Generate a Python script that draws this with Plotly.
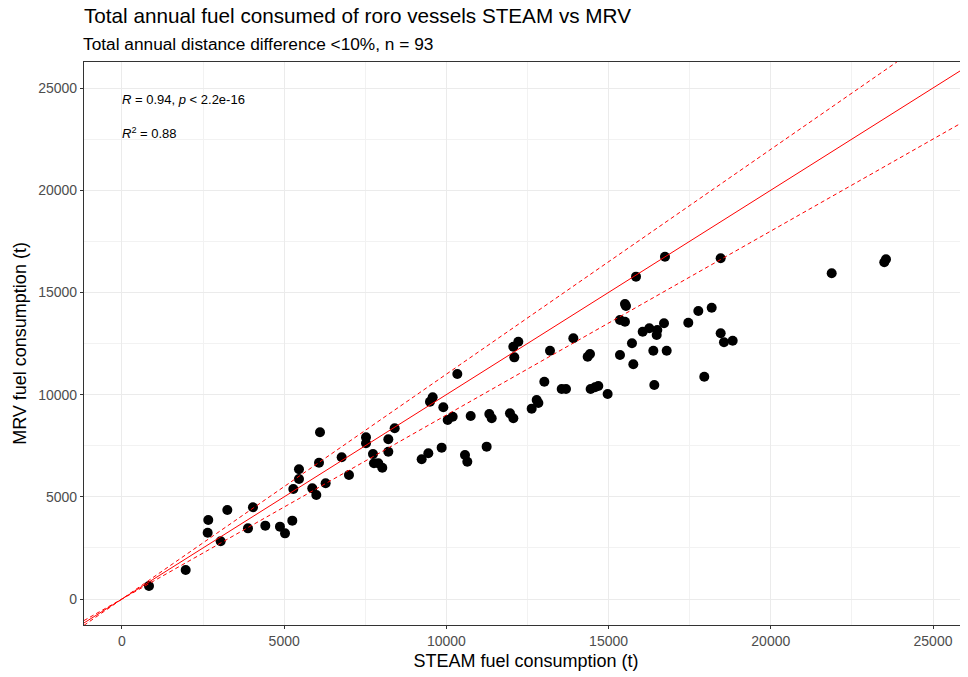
import plotly.graph_objects as go

# STEAM vs MRV annual fuel consumption (t)
steam = [832, 1963, 2660, 2641, 3247, 3042, 4038, 3884, 4418, 4870,
         5025, 5250, 5456, 5456, 5281, 6073, 5866, 5990, 6278, 6997,
         7768, 7901, 8024, 6104, 6772, 7522, 7522, 7737, 8210, 8210,
         8406, 9238, 9443, 9854, 9494, 9577, 9905, 10040, 10194, 10337,
         10573, 10645, 10749, 11241, 11323, 11397, 11960, 12064, 12094, 12063,
         12217, 12629, 12783, 12835, 13019, 13194, 13554, 13687, 13913, 14355,
         14427, 14447, 14581, 14683, 14971, 15351, 15351, 15505, 15505, 15536,
         15721, 15762, 15845, 16051, 16255, 16379, 16409, 16502, 16482, 16708,
         16791, 16738, 17457, 17766, 17950, 18178, 18455, 18455, 18557, 18825,
         21877, 23499, 23551]
mrv = [636, 1419, 3865, 3244, 4354, 2823, 4485, 3457, 3588, 3539,
       3212, 3833, 6344, 5871, 5382, 6670, 5414, 5088, 5659, 6067,
       6638, 6638, 6422, 8154, 6932, 7909, 7617, 7094, 7812, 7207,
       8350, 6834, 7128, 7404, 9653, 9866, 9377, 8757, 8920, 11008,
       7045, 6717, 8953, 7453, 9051, 8840, 9083, 8840, 11823, 12344,
       12589, 9312, 9736, 9589, 10631, 12148, 10274, 10274, 12754, 11854,
       11986, 10274, 10357, 10421, 10029, 11937, 13650, 13566, 14432, 14335,
       12509, 11483, 15770, 13077, 13243, 12148, 10470, 13160, 12916, 13488,
       12148, 16747, 13518, 14090, 10876, 14252, 16668, 12999, 12559, 12637,
       15934, 16472, 16619]

x_range = [-1171, 26079]
y_range = [-1272, 26272]
ticks = [0, 5000, 10000, 15000, 20000, 25000]

# 1:1 line and +/-10% lines
ratios = [1.0, 1.1, 0.9]
dashes = ['solid', '4px,3px', '4px,3px']

fig = go.Figure()

fig.add_trace(go.Scatter(
    x=steam, y=mrv, mode='markers',
    marker=dict(color='black', size=10),
    showlegend=False
))

for k, d in zip(ratios, dashes):
    fig.add_trace(go.Scatter(
        x=x_range, y=[k * v for v in x_range], mode='lines',
        line=dict(color='#ff0000', width=1, dash=d),
        showlegend=False, hoverinfo='skip'
    ))

axis_common = dict(
    showgrid=True, gridcolor='#ebebeb', gridwidth=1.1,
    minor=dict(showgrid=True, gridcolor='#f2f2f2', gridwidth=0.6, dtick=2500, tick0=2500),
    zeroline=False,
    ticks='outside', ticklen=3, tickcolor='#333333', tickwidth=1,
    tickfont=dict(size=14, color='#4d4d4d'),
    tickvals=ticks, tickformat='d',
    showline=True, linecolor='#333333', linewidth=1.2,
    automargin=False,
)

fig.update_xaxes(range=x_range, mirror=True,
                 title=dict(text='STEAM fuel consumption (t)', font=dict(size=18, color='black'), standoff=6),
                 **axis_common)
fig.update_yaxes(range=y_range, mirror=False,
                 title=dict(text='MRV fuel consumption (t)', font=dict(size=18, color='black'), standoff=6),
                 **axis_common)

fig.add_annotation(x=0, y=24460, xref='x', yref='y', xanchor='left', yanchor='middle',
                   text='<i>R</i> = 0.94, <i>p</i> &lt; 2.2e-16', showarrow=False,
                   font=dict(size=13, color='black'), xshift=-2)
fig.add_annotation(x=0, y=22800, xref='x', yref='y', xanchor='left', yanchor='middle',
                   text='<i>R</i><sup>2</sup> = 0.88', showarrow=False,
                   font=dict(size=13, color='black'), xshift=-2)

fig.add_annotation(x=0, y=1 + 18 / 563, xref='paper', yref='paper', xanchor='left', yanchor='middle',
                   text='Total annual distance difference &lt;10%, n = 93', showarrow=False,
                   font=dict(size=17.3, color='black'), xshift=-3)

# page is drawn with an 8px body offset, so the figure is 8px smaller and margins shifted
fig.update_layout(
    width=960, height=669,
    font=dict(family='Liberation Sans, Arial, sans-serif'),
    title=dict(text='Total annual fuel consumed of roro vessels STEAM vs MRV',
               x=76 / 960, xanchor='left', y=1 - 8 / 669, yanchor='middle',
               font=dict(size=20.7, color='black')),
    plot_bgcolor='white', paper_bgcolor='white',
    margin=dict(l=76, r=0, t=54, b=52),
)

fig.write_html("out.html")
